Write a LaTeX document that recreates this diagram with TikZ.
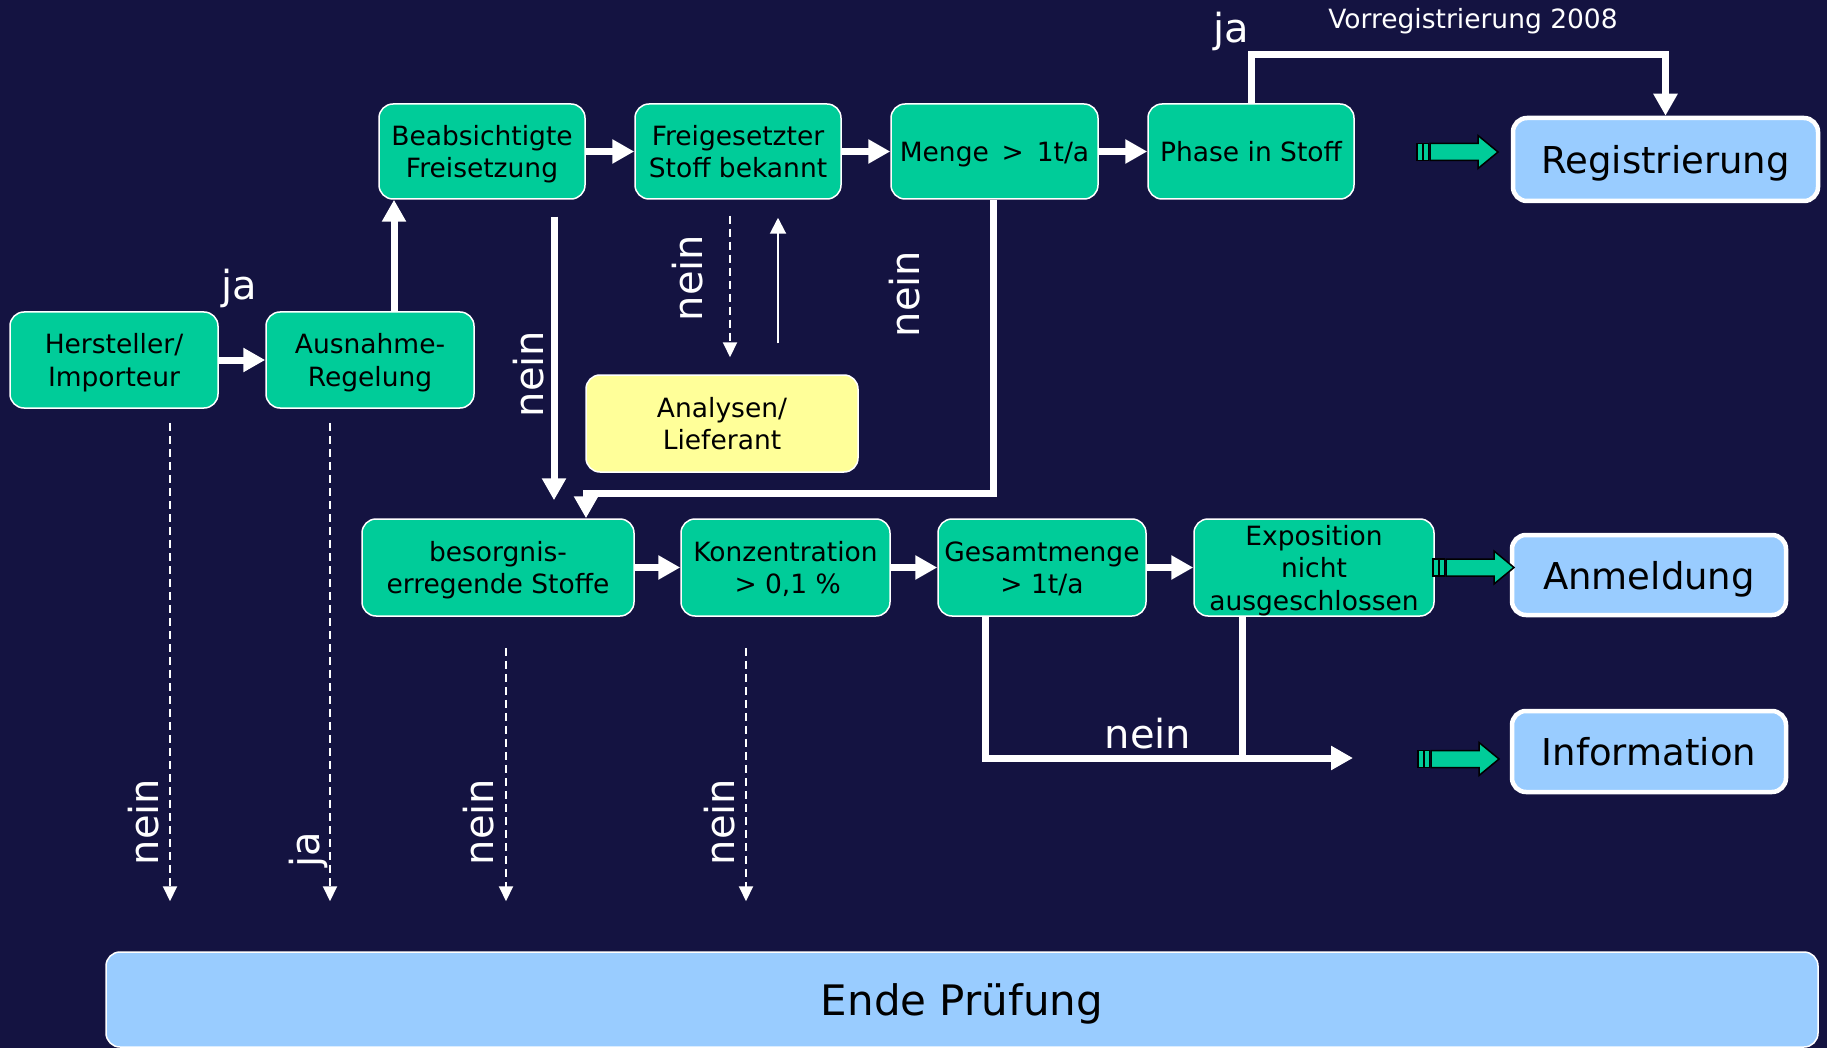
\documentclass[tikz,border=0pt]{standalone}
\usepackage{fontspec}
\setmainfont{DejaVu Sans}
\usetikzlibrary{arrows.meta}
\definecolor{bgc}{RGB}{20,19,65}
\definecolor{grn}{HTML}{00CC99}
\definecolor{lblue}{HTML}{99CCFF}
\definecolor{ylw}{HTML}{FFFF99}
\newcommand\boxfont{\fontsize{26.5}{32.5}\selectfont}
\newcommand\bigfont{\fontsize{40}{46}\selectfont}
\newcommand\resfont{\fontsize{37}{42}\selectfont}
\newcommand\finfont{\fontsize{42}{48}\selectfont}
\begin{document}
\begin{tikzpicture}[x=1pt,y=-1pt,
  gbox/.style={draw=white, line width=1.5pt, fill=grn, rounded corners=14pt, text=black,
    font=\boxfont, align=center, inner sep=0pt, minimum height=96pt, text depth=0pt},
  ybox/.style={gbox, fill=ylw},
  rbox/.style={draw=white, line width=4.5pt, fill=lblue, rounded corners=14pt, text=black,
    font=\resfont, inner sep=0pt, text depth=0pt},
  endbox/.style={draw=white, line width=1.5pt, fill=lblue, rounded corners=14pt, text=black,
    font=\finfont, inner sep=0pt, text depth=0pt},
  bigarrow/.style={draw=white, line width=7pt, line join=miter, -{Triangle[width=23pt,length=22pt]}},
  thickline/.style={draw=white, line width=7pt},
  thinarrow/.style={draw=white, line width=2pt, -{Triangle[width=16pt,length=16pt]}},
  dasharrow/.style={draw=white, line width=2pt, dash pattern=on 8pt off 5pt, -{Triangle[width=14pt,length=15pt]}},
  lbl/.style={text=white, font=\bigfont, inner sep=0pt},
  garrow/.pic={
    \begin{scope}[draw=black, fill=grn, line width=1.5pt]
      \filldraw (0,-8.5) rectangle (5.5,8.5);
      \filldraw (6,-8.5) rectangle (11.5,8.5);
      \filldraw (13,-8.5) -- (61,-8.5) -- (61,-16.5) -- (81,0) -- (61,16.5) -- (61,8.5) -- (13,8.5) -- cycle;
    \end{scope}
  }
]
\useasboundingbox (0,0) rectangle (1827,1048);
\fill[bgc] (0,0) rectangle (1827,1048);

% nodes
\node[gbox, minimum width=208pt] (hers) at (114,360) {Hersteller/\\Importeur};
\node[gbox, minimum width=208pt] (ausn) at (370,360) {Ausnahme-\\Regelung};
\node[gbox, minimum width=206pt, minimum height=95pt] (beab) at (482,151.5) {Beabsichtigte\\Freisetzung};
\node[gbox, minimum width=206pt, minimum height=95pt] (frei) at (738,151.5) {Freigesetzter\\Stoff bekannt};
\node[gbox, minimum width=207pt, minimum height=95pt] (menge) at (994.5,151.5) {Menge \,>\, 1t/a};
\node[gbox, minimum width=206pt, minimum height=95pt] (phase) at (1251,151.5) {Phase in Stoff};
\node[rbox, minimum width=305pt, minimum height=83pt] (regi) at (1665.5,159.5) {Registrierung};
\node[ybox, minimum width=272pt, minimum height=97pt] (analys) at (722,423.5) {Analysen/\\Lieferant};
\node[gbox, minimum width=272pt, minimum height=97pt] (besorg) at (498,567.5) {besorgnis-\\erregende Stoffe};
\node[gbox, minimum width=209pt, minimum height=97pt] (konz) at (785.5,567.5) {Konzentration\\\,> 0,1 \%};
\node[gbox, minimum width=208pt, minimum height=97pt] (gesamt) at (1042,567.5) {Gesamtmenge\\> 1t/a};
\node[gbox, minimum width=240pt, minimum height=97pt] (expo) at (1314,567.5) {Exposition\\nicht\\ausgeschlossen};
\node[rbox, minimum width=274pt, minimum height=80pt] (anmeld) at (1649,575) {Anmeldung};
\node[rbox, minimum width=274pt, minimum height=81pt] (info) at (1649,751.5) {Information};
\node[endbox, minimum width=1712pt, minimum height=95pt] (ende) at (962,999.5) {Ende Prüfung};

% helper coordinates
\coordinate (cA) at (394,0);
\coordinate (cB) at (554,0);
\coordinate (cC) at (993,0);
\coordinate (mc) at (586,493);
\coordinate (jt) at (1400,55);
\coordinate (cD) at (985,0);
\coordinate (cE) at (1242,0);
\coordinate (ie) at (1353,758);
\coordinate (cF) at (778,0);
\coordinate (cG) at (730,0);
\coordinate (d1) at (170,0);
\coordinate (d2) at (330,0);
\coordinate (d3) at (506,0);
\coordinate (d4) at (746,0);

% thick connectors
\draw[bigarrow] (hers.east) -- (ausn.west);
\draw[bigarrow] (ausn.north -| cA) -- (beab.south -| cA);
\draw[bigarrow] (beab.east) -- (frei.west);
\draw[bigarrow] (frei.east) -- (menge.west);
\draw[bigarrow] (menge.east) -- (phase.west);
\draw[bigarrow] (phase.north) |- (jt) -| (regi.north);
\draw[bigarrow, shorten <=17pt, shorten >=18pt] (beab.south -| cB) -- (besorg.north -| cB);
\draw[bigarrow] (menge.south -| cC) |- (mc) -- (besorg.north -| mc);
\draw[bigarrow] (besorg.east) -- (konz.west);
\draw[bigarrow] (konz.east) -- (gesamt.west);
\draw[bigarrow] (gesamt.east) -- (expo.west);
\draw[bigarrow] (gesamt.south -| cD) |- (ie);
\draw[thickline] (expo.south -| cE) -- (cE |- ie);

% thin connectors
\draw[dasharrow, shorten <=16pt, shorten >=17pt] (frei.south -| cG) -- (analys.north -| cG);
\draw[thinarrow, shorten <=31pt, shorten >=18pt] (analys.north -| cF) -- (frei.south -| cF);
\draw[dasharrow, shorten <=14pt, shorten >=50pt] (hers.south -| d1) -- (ende.north -| d1);
\draw[dasharrow, shorten <=14pt, shorten >=50pt] (ausn.south -| d2) -- (ende.north -| d2);
\draw[dasharrow, shorten <=31pt, shorten >=50pt] (besorg.south -| d3) -- (ende.north -| d3);
\draw[dasharrow, shorten <=31pt, shorten >=50pt] (konz.south -| d4) -- (ende.north -| d4);

% green block arrows
\pic (g1) at (1417,152) {garrow};
\pic (g2) at (1433,567.5) {garrow};
\pic (g3) at (1418,759) {garrow};

% labels
\node[lbl, anchor=base] (lja1) at (239,300) {ja};
\node[lbl, anchor=base] (lja2) at (1231,43) {ja};
\node[text=white, font=\boxfont, inner sep=0pt, anchor=base] (vorr) at (1473,29) {Vorregistrierung 2008};
\node[lbl, anchor=base] (lnein0) at (1148,748) {nein};
\node[lbl, rotate=90, anchor=base] (lnein1) at (543,374) {nein};
\node[lbl, rotate=90, anchor=base] (lnein2) at (702,278) {nein};
\node[lbl, rotate=90, anchor=base] (lnein3) at (919,294) {nein};
\node[lbl, rotate=90, anchor=base] (lnein4) at (158,822) {nein};
\node[lbl, rotate=90, anchor=base] (lja3) at (319,850) {ja};
\node[lbl, rotate=90, anchor=base] (lnein5) at (493,822) {nein};
\node[lbl, rotate=90, anchor=base] (lnein6) at (734,822) {nein};
\end{tikzpicture}
\end{document}
